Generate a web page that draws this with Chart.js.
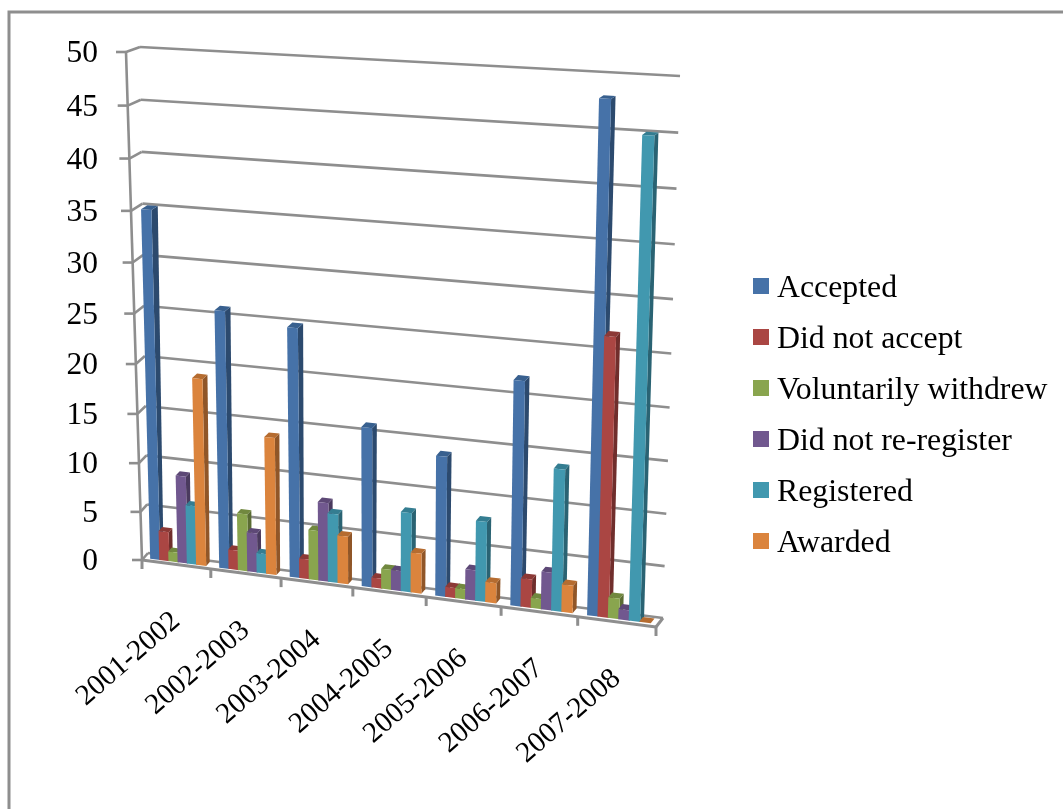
<!DOCTYPE html>
<html>
<head>
<meta charset="utf-8">
<title>Applications by year</title>
<script src="https://cdn.jsdelivr.net/npm/chart.js@4"></script>
<style>
  html, body { margin: 0; padding: 0; background: #fff; }
  canvas { display: block; }
</style>
</head>
<body>
<canvas id="myChart" width="1063" height="809"></canvas>
<script>
  // chart data
  const years = ['2001-2002', '2002-2003', '2003-2004', '2004-2005', '2005-2006', '2006-2007', '2007-2008'];
  const seriesNames = ['Accepted', 'Did not accept', 'Voluntarily withdrew', 'Did not re-register', 'Registered', 'Awarded'];
  const accepted = [35, 25.8, 24.8, 15.8, 13.8, 21.8, 48];
  const didNotAccept = [3, 2, 2, 1, 1, 2.8, 26.7];
  const withdrew = [1, 5.8, 5, 2, 1, 1, 2];
  const didNotReRegister = [8.9, 4, 7.9, 2, 3, 3.7, 1];
  const registered = [6, 2, 6.9, 7.9, 7.9, 13.8, 45];
  const awarded = [18.9, 13.8, 4.8, 4, 2, 2.7, 0];

  // front, side and top colour of each series
  const fronts = ['#4672a8', '#aa4643', '#89a54e', '#71588f', '#4198af', '#db843d'];
  const sides = ['#2c4a6e', '#702e2c', '#5a6c33', '#4a3a5e', '#2a6373', '#905628'];
  const tops = ['#38608f', '#8c3936', '#71883f', '#5d4876', '#347d91', '#b56c30'];

  const gridColor = '#8e8e8e';
  const legendFont = '31.8px "Liberation Serif"';
  const valueFont = '31.5px "Liberation Serif"';
  const yearFont = '29.2px "Liberation Serif"';

  // corners of the box the bars stand in: bl, br, tr, tl
  const frontPlane = [[142, 560], [656, 627], [673, 81], [126, 52]];
  const backPlane = [[148, 553], [663, 618], [680, 76], [140, 47]];
  const barFront = 0.3;
  const barBack = 0.85;

  // unit square -> quad
  function homography(q) {
    const [p0, p1, p2, p3] = q;
    const dx1 = p1[0] - p2[0], dx2 = p3[0] - p2[0], dx3 = p0[0] - p1[0] + p2[0] - p3[0];
    const dy1 = p1[1] - p2[1], dy2 = p3[1] - p2[1], dy3 = p0[1] - p1[1] + p2[1] - p3[1];
    const den = dx1 * dy2 - dx2 * dy1;
    const g = (dx3 * dy2 - dx2 * dy3) / den;
    const h = (dx1 * dy3 - dx3 * dy1) / den;
    const a = p1[0] - p0[0] + g * p1[0], b = p3[0] - p0[0] + h * p3[0];
    const d = p1[1] - p0[1] + g * p1[1], e = p3[1] - p0[1] + h * p3[1];
    return function (u, v) {
      const w = g * u + h * v + 1;
      return [(a * u + b * v + p0[0]) / w, (d * u + e * v + p0[1]) / w];
    };
  }
  const toFront = homography(frontPlane);
  const toBack = homography(backPlane);

  // u along the categories, v up the value axis, z from front to back wall
  function project(u, v, z) {
    const f = toFront(u, v), b = toBack(u, v);
    return [f[0] + (b[0] - f[0]) * z, f[1] + (b[1] - f[1]) * z];
  }

  function line(ctx, a, b) {
    ctx.beginPath();
    ctx.moveTo(a[0], a[1]);
    ctx.lineTo(b[0], b[1]);
    ctx.stroke();
  }

  function face(ctx, pts, color) {
    ctx.fillStyle = color;
    ctx.beginPath();
    pts.forEach((p, i) => i ? ctx.lineTo(p[0], p[1]) : ctx.moveTo(p[0], p[1]));
    ctx.closePath();
    ctx.fill();
  }

  function drawBox(chart) {
    const ctx = chart.ctx, yScale = chart.scales.y;
    ctx.save();
    ctx.strokeStyle = gridColor;
    ctx.lineWidth = 2.6;
    ctx.font = valueFont;
    ctx.fillStyle = '#000';
    ctx.textAlign = 'right';
    ctx.textBaseline = 'middle';

    // value gridlines: back wall, side wall, tick stub, then the number
    yScale.ticks.forEach(t => {
      const v = (yScale.bottom - yScale.getPixelForValue(t.value)) / yScale.height;
      const f = project(0, v, 0);
      line(ctx, project(0, v, 1), project(1, v, 1));
      line(ctx, f, project(0, v, 1));
      line(ctx, [f[0] - 10, f[1]], f);
      ctx.fillText(t.label, 98, f[1] + 2);
    });
    line(ctx, project(0, 0, 0), project(0, 1, 0));

    // floor and category ticks
    ctx.lineWidth = 3;
    line(ctx, project(0, 0, 0), project(1, 0, 0));
    line(ctx, project(1, 0, 0), project(1, 0, 1));
    for (let i = 0; i <= years.length; i++) {
      const p = project(i / years.length, 0, 0);
      line(ctx, p, [p[0], p[1] + 9]);
    }
    ctx.restore();
  }

  function drawBars(chart) {
    const ctx = chart.ctx, area = chart.chartArea;
    const U = x => (x - area.left) / (area.right - area.left);
    const V = y => (area.bottom - y) / (area.bottom - area.top);
    years.forEach((year, c) => {
      seriesNames.forEach((name, s) => {
        const bar = chart.getDatasetMeta(s).data[c];
        const l = U(bar.x - bar.width / 2), r = U(bar.x + bar.width / 2);
        const top = V(bar.y), base = V(bar.base);
        face(ctx, [project(r, base, barFront), project(r, base, barBack), project(r, top, barBack), project(r, top, barFront)], sides[s]);
        face(ctx, [project(l, top, barFront), project(r, top, barFront), project(r, top, barBack), project(l, top, barBack)], tops[s]);
        face(ctx, [project(l, base, barFront), project(r, base, barFront), project(r, top, barFront), project(l, top, barFront)], fronts[s]);
      });
    });
  }

  function drawYearLabels(chart) {
    const ctx = chart.ctx;
    ctx.save();
    ctx.font = yearFont;
    ctx.fillStyle = '#000';
    ctx.textAlign = 'right';
    ctx.textBaseline = 'middle';
    years.forEach((year, c) => {
      const p = project((c + 0.5) / years.length, 0, 0);
      ctx.save();
      ctx.translate(p[0], p[1] + 53);
      ctx.rotate(-41 * Math.PI / 180);
      ctx.fillText(year, 0, 0);
      ctx.restore();
    });
    ctx.restore();
  }

  function drawLegend(chart) {
    const ctx = chart.ctx;
    ctx.save();
    ctx.font = legendFont;
    ctx.textBaseline = 'alphabetic';
    chart.data.datasets.forEach((ds, i) => {
      const base = 297 + 51 * i;
      ctx.fillStyle = ds.backgroundColor;
      ctx.fillRect(753, base - 19, 16, 16);
      ctx.fillStyle = '#000';
      ctx.fillText(ds.label, 777, base);
    });
    ctx.restore();
  }

  // the page frame, cut off by the right and bottom edges
  function drawFrame(chart) {
    const ctx = chart.ctx;
    ctx.save();
    ctx.fillStyle = '#fff';
    ctx.fillRect(0, 0, chart.width, chart.height);
    ctx.strokeStyle = '#8e8e8e';
    ctx.lineWidth = 3;
    ctx.beginPath();
    ctx.moveTo(9, chart.height);
    ctx.lineTo(9, 12);
    ctx.lineTo(chart.width, 12);
    ctx.stroke();
    ctx.restore();
  }

  const box3d = {
    id: 'box3d',
    beforeDraw: drawFrame,
    beforeDatasetsDraw(chart) {
      drawBox(chart);
      drawBars(chart);
      drawYearLabels(chart);
      drawLegend(chart);
      return false; // bars are already painted, skip the flat ones
    }
  };

  const allSeries = [accepted, didNotAccept, withdrew, didNotReRegister, registered, awarded];

  const myChart = new Chart(document.getElementById('myChart'), {
    type: 'bar',
    data: {
      labels: years,
      datasets: seriesNames.map((name, i) => ({
        label: name,
        data: allSeries[i],
        backgroundColor: fronts[i],
        categoryPercentage: 0.8,
        barPercentage: 1.1
      }))
    },
    options: {
      responsive: false,
      animation: false,
      layout: { padding: { left: 0, top: 48, right: 407, bottom: 247 } },
      plugins: { legend: { display: false }, tooltip: { enabled: false } },
      scales: {
        x: { display: false },
        y: {
          min: 0,
          max: 50,
          afterFit(scale) { scale.width = 142; },
          grid: { display: false, drawTicks: false },
          border: { display: false },
          ticks: { display: false, stepSize: 5 }
        }
      }
    },
    plugins: [box3d]
  });
</script>
</body>
</html>
